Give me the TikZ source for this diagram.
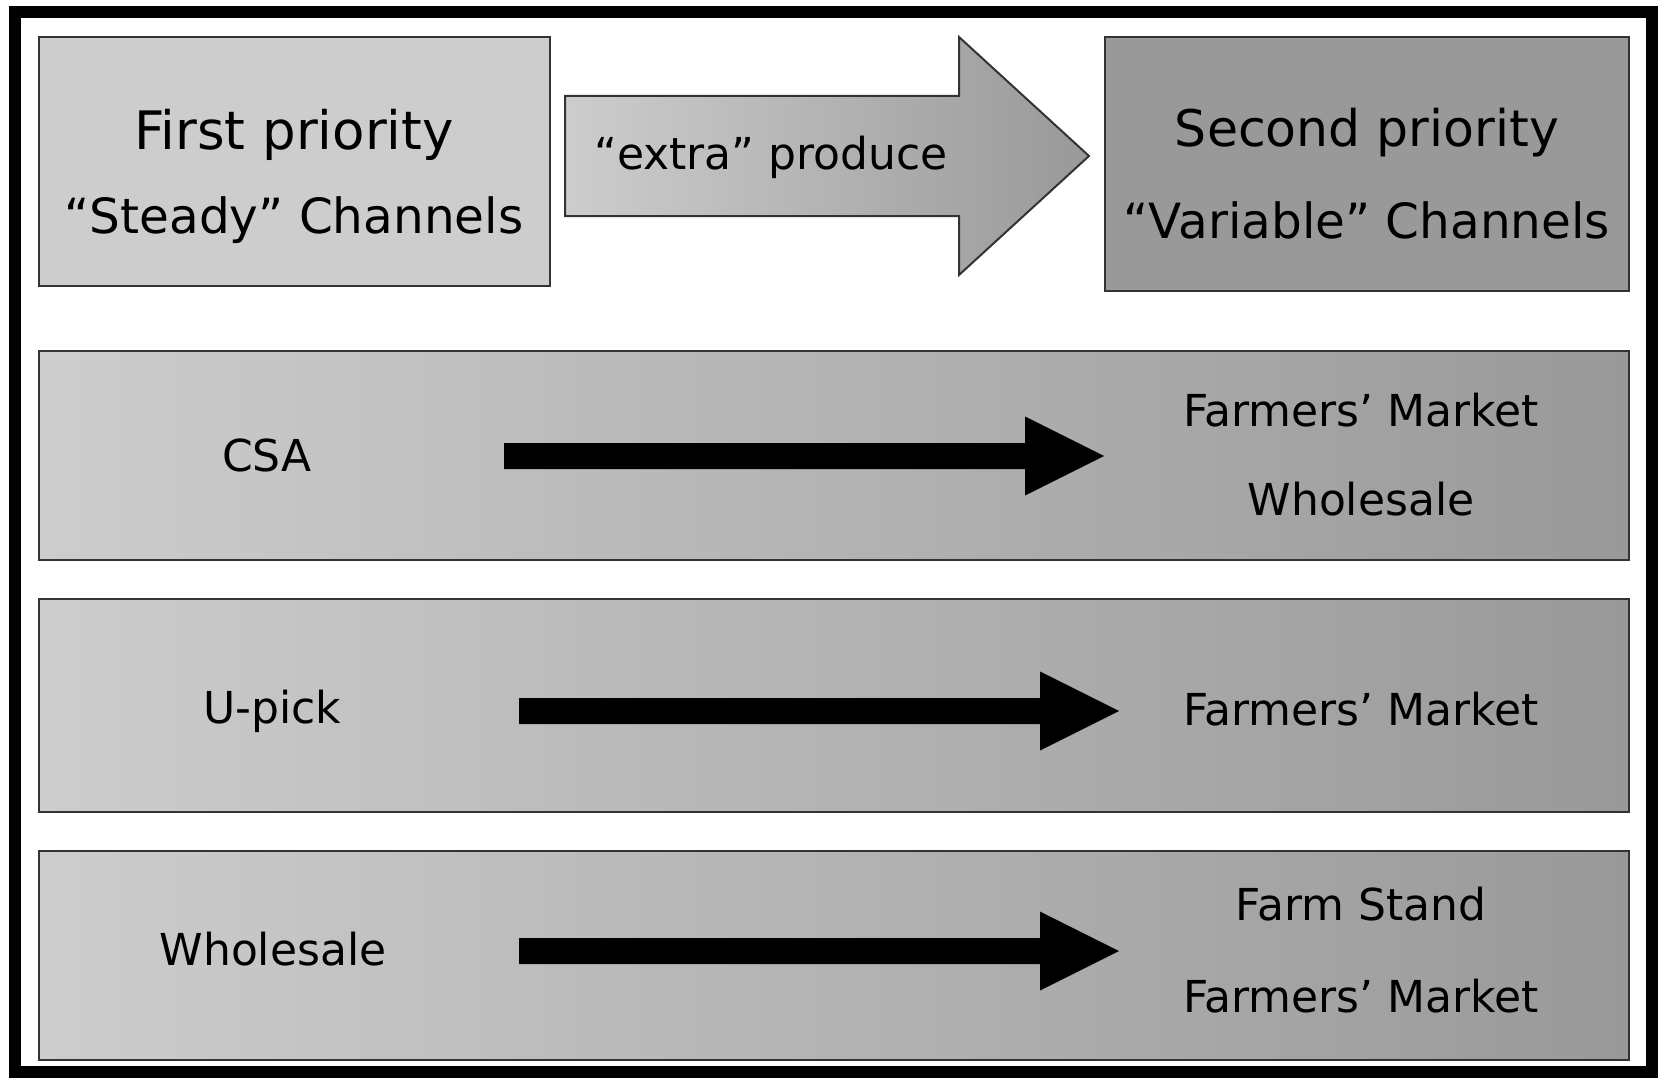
\documentclass[tikz,border=0pt]{standalone}
\usepackage{fontspec}
\setmainfont{DejaVu Sans}
\usetikzlibrary{calc}
\definecolor{boxline}{HTML}{333333}
\definecolor{lightg}{HTML}{CDCDCD}
\definecolor{darkg}{HTML}{999999}
\newcommand\fatarrowdraw[2]{%
  \fill[black] ($(#1)+(0,-13)$) -- ($(#2)+(-79,-13)$) -- ($(#2)+(-79,-39.5)$) -- (#2)
    -- ($(#2)+(-79,39.5)$) -- ($(#2)+(-79,13)$) -- ($(#1)+(0,13)$) -- cycle;}
\begin{document}
\begin{tikzpicture}[x=1pt,y=-1pt,
  box/.style={draw=boxline, line width=2pt, inner sep=0pt},
  rowbox/.style={box, left color=lightg, right color=darkg, minimum width=1590pt},
  lbl/.style={inner sep=0pt, font=\fontsize{44}{50}\selectfont},
  toplbl/.style={inner sep=0pt, font=\fontsize{#1}{56}\selectfont}]
\fill[white] (0,0) rectangle (1661,1078);
\useasboundingbox (0,0) rectangle (1661,1078);
\draw[line width=12pt] (15,12) rectangle (1652,1072);

% top row
\node[box, fill=lightg, minimum width=511pt, minimum height=249pt] (firstbox) at (294.5,161.5) {};
\node[box, fill=darkg, minimum width=524pt, minimum height=254pt] (secondbox) at (1367,164) {};
\path[draw=boxline, line width=2pt, left color=lightg, right color=darkg]
  (565,96) -- (959,96) -- (959,37) -- (1089,156) -- (959,275) -- (959,216) -- (565,216) -- cycle;

\node[toplbl=53] (fp) at (294,135) {First priority};
\node[toplbl=48.5] (sc) at (294,220) {“Steady” Channels};
\node[toplbl=50.5] (sp) at (1367,133) {Second priority};
\node[toplbl=48.5] (vc) at (1367,220) {“Variable” Channels};
\node[lbl] (extra) at (771,157) {“extra” produce};

% rows
\node[rowbox, minimum height=209pt] (row1) at (834,455.5) {};
\node[rowbox, minimum height=213pt] (row2) at (834,705) {};
\node[rowbox, minimum height=209pt] (row3) at (834,955.5) {};

\node[lbl] (csa) at (267,455) {CSA};
\node[lbl] (upick) at (272,711) {U-pick};
\node[lbl] (whl) at (273,949) {Wholesale};

\node[lbl] (fm1) at (1361,410) {Farmers’ Market};
\node[lbl] (wh1) at (1361,499) {Wholesale};
\node[lbl] (fm2) at (1361,709) {Farmers’ Market};
\node[lbl] (fs3) at (1361,904) {Farm Stand};
\node[lbl] (fm3) at (1361,996) {Farmers’ Market};

\coordinate (s1) at (504,456);  \coordinate (e1) at (1104,456);
\coordinate (s2) at (519,711);  \coordinate (e2) at (1119,711);
\coordinate (s3) at (519,951);  \coordinate (e3) at (1119,951);
\fatarrowdraw{s1}{e1}
\fatarrowdraw{s2}{e2}
\fatarrowdraw{s3}{e3}
\end{tikzpicture}
\end{document}
